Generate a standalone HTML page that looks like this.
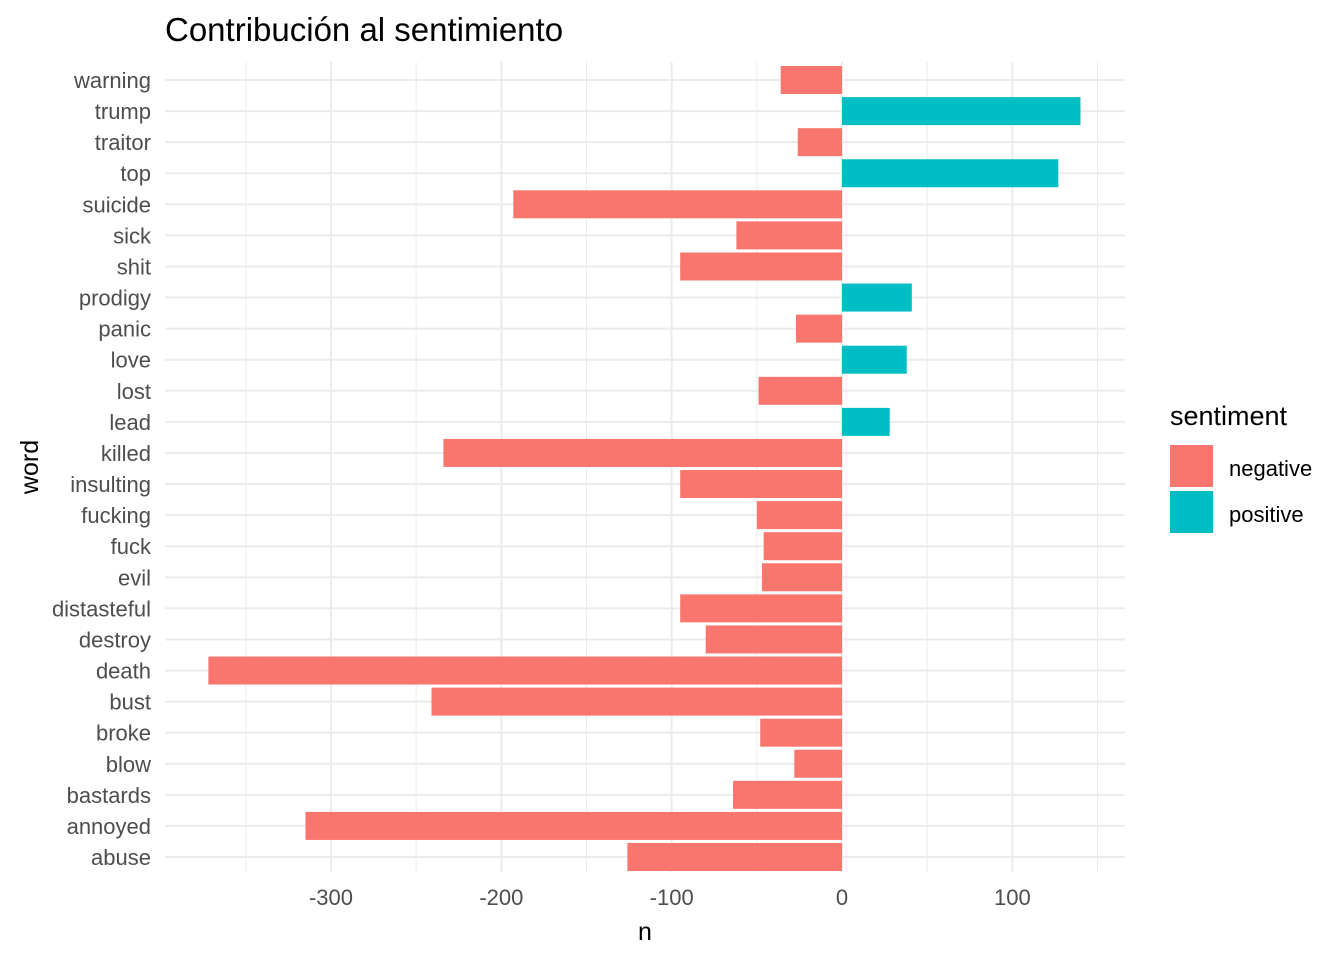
<!DOCTYPE html>
<html><head><meta charset="utf-8"><style>
body{margin:0;background:#fff;}
svg text{font-family:"Liberation Sans",Arial,sans-serif;}
</style></head><body>
<svg id="chart" width="1344" height="960" xmlns="http://www.w3.org/2000/svg">
<rect width="1344" height="960" fill="#fff"/>
<text x="165" y="41" font-size="33" fill="#000">Contribución al sentimiento</text>
<g id="grid"></g>
<g id="bars"></g>
<g id="ylabels"></g>
<g id="xlabels"></g>
<text x="645" y="940" font-size="25" text-anchor="middle" fill="#000">n</text>
<text transform="translate(38,467) rotate(-90)" font-size="25" text-anchor="middle" fill="#000">word</text>
<g>
<text x="1170" y="425" font-size="27" fill="#000">sentiment</text>
<rect x="1170" y="445" width="43" height="42" fill="#F8766D"/>
<text x="1229" y="476" font-size="22" fill="#000">negative</text>
<rect x="1170" y="491" width="43" height="42" fill="#00BFC4"/>
<text x="1229" y="522" font-size="22" fill="#000">positive</text>
</g>
</svg>
<script>
const words = ["warning","trump","traitor","top","suicide","sick","shit","prodigy","panic","love","lost","lead","killed","insulting","fucking","fuck","evil","distasteful","destroy","death","bust","broke","blow","bastards","annoyed","abuse"];
const values = [-36,140,-26,127,-193,-62,-95,41,-27,38,-49,28,-234,-95,-50,-46,-47,-95,-80,-372,-241,-48,-28,-64,-315,-126];
const majorTicks = [-300,-200,-100,0,100];
const minorTicks = [-350,-250,-150,-50,50,150];
const tickLabels = ["-300","-200","-100","0","100"];

const NS="http://www.w3.org/2000/svg";
const x0=842, pxPer=1.7033;
function xs(v){return x0+v*pxPer;}
const yTop=80, step=(857-80)/25, barH=28;
function ys(i){return yTop+i*step;}
function mk(tag,attrs,parent){const e=document.createElementNS(NS,tag);for(const k in attrs)e.setAttribute(k,attrs[k]);parent.appendChild(e);return e;}
const grid=document.getElementById('grid'),bars=document.getElementById('bars'),yl=document.getElementById('ylabels'),xl=document.getElementById('xlabels');
minorTicks.forEach(t=>{const l=mk('line',{x1:xs(t),x2:xs(t),y1:62,y2:872,stroke:'#ebebeb','stroke-width':1},grid);

});
majorTicks.forEach((t,i)=>{const l=mk('line',{x1:xs(t),x2:xs(t),y1:62,y2:872,stroke:'#ebebeb','stroke-width':2},grid);


const tx=mk('text',{x:xs(t),y:905,'font-size':22,'text-anchor':'middle',fill:'#4d4d4d'},xl);tx.textContent=tickLabels[i];

});
words.forEach((w,i)=>{const y=ys(i);
const l=mk('line',{x1:165,x2:1125,y1:y,y2:y,stroke:'#ebebeb','stroke-width':2},grid);


const v=values[i];const a=xs(Math.min(0,v)),b=xs(Math.max(0,v));
const r=mk('rect',{x:a,y:y-barH/2,width:b-a,height:barH,fill:v<0?'#F8766D':'#00BFC4'},bars);


const t=mk('text',{x:151,y:y+8,'font-size':22,'text-anchor':'end',fill:'#4d4d4d'},yl);t.textContent=w;

});
</script>
</body></html>
